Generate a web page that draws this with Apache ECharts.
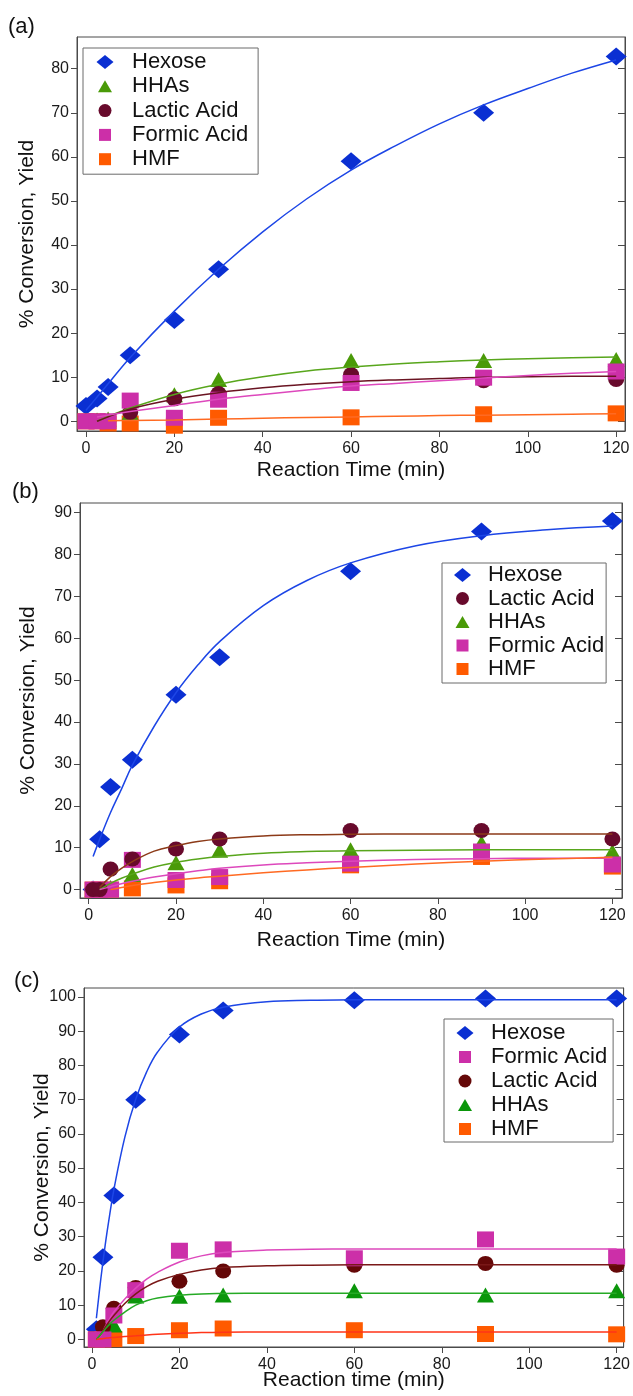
<!DOCTYPE html>
<html><head><meta charset="utf-8">
<script src="https://cdn.jsdelivr.net/npm/echarts@6/dist/echarts.min.js"></script>
<style>html,body{margin:0;padding:0;background:#fff}#c{width:633px;height:1396px}</style>
</head><body><div id="c"></div>
<script>
// ---------- data ----------
const xTicks = [0, 20, 40, 60, 80, 100, 120];
const yTicksA = [0, 10, 20, 30, 40, 50, 60, 70, 80];
const yTicksB = [0, 10, 20, 30, 40, 50, 60, 70, 80, 90];
const yTicksC = [0, 10, 20, 30, 40, 50, 60, 70, 80, 90, 100];

// panel (a)
const timesA   = [0, 2.5, 5, 10, 20, 30, 60, 90, 120];
const hexoseA  = [3.5, 5.2, 7.8, 15, 23, 34.5, 59, 70, 82.8];
const hhasA    = [0.3, 0.3, 0.5, 2, 6, 9.5, 13.8, 13.8, 14];
const lacticA  = [0, 0, 0, 2, 5.1, 6.3, 10.6, 9.2, 9.5];
const formicA  = [0, 0, 0, 4.7, 0.8, 4.9, 8.7, 9.9, 11.3];
const hmfA     = [0, 0, -0.5, -0.5, -1, 0.8, 0.9, 1.6, 1.8];
const fitTimeA   = [0, 2.5, 5, 10, 20, 30, 40, 50, 60, 70, 80, 90, 100, 110, 120];
const hexoseFitA = [2.5, 5.5, 8.5, 14.5, 25, 34.5, 43, 50.5, 57, 62.5, 67.5, 71.8, 75.5, 79, 82];
const hhasFitA   = [null, 0, 1.1, 3, 6.1, 8.4, 10.1, 11.4, 12.3, 13, 13.5, 13.9, 14.2, 14.4, 14.6];
const lacticFitA = [null, 0, 1, 2.8, 5, 6.5, 7.6, 8.4, 9, 9.4, 9.7, 10, 10.1, 10.2, 10.2];
const formicFitA = [null, 1, 1.4, 2.2, 3.6, 5, 6.1, 7.1, 8, 8.6, 9.2, 9.8, 10.4, 10.9, 11.3];
const hmfFitA    = [null, null, 0.1, 0.2, 0.3, 0.5, 0.7, 0.85, 1.0, 1.15, 1.3, 1.4, 1.5, 1.6, 1.7];

// panel (b)
const timesB   = [1, 2.5, 5, 10, 20, 30, 60, 90, 120];
const hexoseB  = [0, 12, 24.5, 31, 46.5, 55.5, 76, 85.5, 88];
const lacticB  = [0, 0, 4.9, 7.3, 9.7, 12.1, 14.1, 14.1, 12.1];
const hhasB    = [0, 0, 0.5, 3.6, 6.4, 9.4, 9.5, 11.2, 9.1];
const formicB  = [0, 0, 0, 7.1, 2.3, 3, 6.2, 9.1, 6];
const hmfB     = [0, 0, 0, 0.3, 1, 2, 5.8, 7.8, 5.5];
const fitTimeB   = [1, 2.5, 5, 7.5, 10, 15, 20, 25, 30, 40, 50, 60, 75, 90, 105, 120];
const hexoseFitB = [7.9, 12, 18.4, 24, 29.7, 39, 47, 53.6, 59.2, 67.8, 73.8, 78, 82.1, 84.5, 85.9, 86.8];
const lacticFitB = [null, 0.5, 3.1, 5.1, 6.7, 9.2, 10.5, 11.5, 12.1, 12.8, 13.1, 13.2, 13.3, 13.3, 13.3, 13.3];
const hhasFitB   = [null, 0, 1.5, 2.7, 3.7, 5.4, 6.5, 7.3, 7.9, 8.7, 9.1, 9.3, 9.4, 9.5, 9.5, 9.5];
const formicFitB = [null, 0, 0.7, 1.4, 2, 3, 3.8, 4.5, 5.1, 5.9, 6.4, 6.8, 7.2, 7.4, 7.5, 7.5];
const hmfFitB    = [null, null, 0, 0.5, 1, 1.7, 2.3, 2.8, 3.2, 4, 4.7, 5.3, 6.1, 6.8, 7.3, 7.7];

// panel (c)
const timesC   = [1, 2.5, 5, 10, 20, 30, 60, 90, 120];
const hexoseC  = [3, 24, 42, 70, 89, 96, 99, 99.5, 99.5];
const formicC  = [0, 0, 7, 14.4, 25.9, 26.3, 23.7, 29.2, 24.2];
const lacticC  = [0, 3.7, 9.1, 15.2, 17, 20, 21.7, 22.2, 21.7];
const hhasC    = [0, 2, 4.2, 12.7, 12.6, 13, 14.2, 13, 14.2];
const hmfC     = [0, 0, 0.1, 1, 2.7, 3.2, 2.7, 1.6, 1.5];
const fitTimeC   = [1, 2, 3, 4, 5, 7.5, 10, 12.5, 15, 20, 25, 30, 40, 50, 60, 80, 100, 120];
const hexoseFitC = [6.2, 17.5, 27.4, 36, 43.7, 59, 70.1, 78.1, 83.9, 91.2, 95, 97, 98.6, 99, 99.2, 99.2, 99.2, 99.2];
const formicFitC = [0, 1.2, 3.7, 6, 8, 11.8, 15, 17.6, 19.6, 22.6, 24.4, 25.4, 26.1, 26.3, 26.4, 26.4, 26.4, 26.4];
const lacticFitC = [0, 1.5, 3.5, 5.4, 7, 10.5, 13.3, 15.4, 17, 19, 20.3, 21, 21.5, 21.7, 21.8, 21.8, 21.8, 21.8];
const hhasFitC   = [0, 1.5, 3, 4.4, 5.6, 8, 10, 11.3, 12.1, 12.9, 13.3, 13.4, 13.5, 13.5, 13.5, 13.5, 13.5, 13.5];
const hmfFitC    = [0, 0.2, 0.35, 0.5, 0.6, 0.85, 1.05, 1.3, 1.5, 1.8, 2, 2.1, 2.2, 2.2, 2.2, 2.2, 2.2, 2.2];

// ---------- styles ----------
const FONT = '"Liberation Sans", Arial, Helvetica, sans-serif';
const AX = '#4a4a4a';
const ST = {
  Hexose:        {sym: 'diamond',  size: [21, 18], color: '#0a2fd2', line: '#1d46e6'},
  HHAs:          {sym: 'triangle', size: [17, 15], color: '#4a9a08', line: '#58a61c'},
  HHAsC:         {sym: 'triangle', size: [17, 15], color: '#0a960a', line: '#25aa25'},
  'Lactic Acid': {sym: 'circle',   size: [16, 15], color: '#680a2c', line: '#6a1422'},
  LacticB:       {sym: 'circle',   size: [16, 15], color: '#680a2c', line: '#8c3a18'},
  LacticC:       {sym: 'circle',   size: [16, 15], color: '#650808', line: '#7a1818'},
  'Formic Acid': {sym: 'rect',     size: [17, 16], color: '#cc2fa8', line: '#dd48bc'},
  HMF:           {sym: 'rect',     size: [17, 16], color: '#ff5a00', line: '#ff6a22'},
  HMFC:          {sym: 'rect',     size: [17, 16], color: '#ff5a00', line: '#ff3418'}
};

function pairs(t, v) {
  const out = [];
  for (let i = 0; i < t.length; i++) if (v[i] !== null) out.push([t[i], v[i]]);
  return out;
}

const series = [];
function addScatter(idx, name, st, t, v, z) {
  series.push({
    type: 'scatter', name: name, xAxisIndex: idx, yAxisIndex: idx * 2,
    symbol: st.sym, symbolSize: st.size, itemStyle: {color: st.color, opacity: 1},
    data: pairs(t, v), z: z, silent: true
  });
}
function addFit(idx, name, st, t, v) {
  series.push({
    type: 'line', name: name + ' fit ' + idx, xAxisIndex: idx, yAxisIndex: idx * 2,
    data: pairs(t, v), smooth: 0.4, showSymbol: false, symbol: 'none',
    lineStyle: {color: st.line, width: 1.5}, z: 10, silent: true
  });
}

// panel a
addScatter(0, 'Hexose', ST.Hexose, timesA, hexoseA, 2);
addScatter(0, 'HMF', ST.HMF, timesA, hmfA, 3);
addScatter(0, 'HHAs', ST.HHAs, timesA, hhasA, 4);
addScatter(0, 'Lactic Acid', ST['Lactic Acid'], timesA, lacticA, 5);
addScatter(0, 'Formic Acid', ST['Formic Acid'], timesA, formicA, 6);
addFit(0, 'Hexose', ST.Hexose, fitTimeA, hexoseFitA);
addFit(0, 'HHAs', ST.HHAs, fitTimeA, hhasFitA);
addFit(0, 'Lactic', ST['Lactic Acid'], fitTimeA, lacticFitA);
addFit(0, 'Formic', ST['Formic Acid'], fitTimeA, formicFitA);
addFit(0, 'HMF', ST.HMF, fitTimeA, hmfFitA);
// panel b
addScatter(1, 'Hexose', ST.Hexose, timesB, hexoseB, 2);
addScatter(1, 'HMF', ST.HMF, timesB, hmfB, 3);
addScatter(1, 'HHAs', ST.HHAs, timesB, hhasB, 4);
addScatter(1, 'Formic Acid', ST['Formic Acid'], timesB, formicB, 5);
addScatter(1, 'Lactic Acid', ST.LacticB, timesB, lacticB, 6);
addFit(1, 'Hexose', ST.Hexose, fitTimeB, hexoseFitB);
addFit(1, 'Lactic', ST.LacticB, fitTimeB, lacticFitB);
addFit(1, 'HHAs', ST.HHAs, fitTimeB, hhasFitB);
addFit(1, 'Formic', ST['Formic Acid'], fitTimeB, formicFitB);
addFit(1, 'HMF', ST.HMF, fitTimeB, hmfFitB);
// panel c
addScatter(2, 'Hexose', ST.Hexose, timesC, hexoseC, 2);
addScatter(2, 'HMF', ST.HMFC, timesC, hmfC, 3);
addScatter(2, 'HHAs', ST.HHAsC, timesC, hhasC, 4);
addScatter(2, 'Lactic Acid', ST.LacticC, timesC, lacticC, 5);
addScatter(2, 'Formic Acid', ST['Formic Acid'], timesC, formicC, 6);
addFit(2, 'Hexose', ST.Hexose, fitTimeC, hexoseFitC);
addFit(2, 'Formic', ST['Formic Acid'], fitTimeC, formicFitC);
addFit(2, 'Lactic', ST.LacticC, fitTimeC, lacticFitC);
addFit(2, 'HHAs', ST.HHAsC, fitTimeC, hhasFitC);
addFit(2, 'HMF', ST.HMFC, fitTimeC, hmfFitC);

// ---------- layout ----------
const grids = [
  {left: 77, top: 37, width: 548, height: 394},
  {left: 80, top: 503, width: 542, height: 395},
  {left: 84, top: 988, width: 540, height: 359}
];
const xRanges = [[-2.04, 122.0], [-2.0, 122.2], [-1.83, 121.6]];
const yRanges = [[-2.2, 87.2], [-2.0, 92.3], [-2.2, 102.6]];
const yTicks = [yTicksA, yTicksB, yTicksC];
const xNames = ['Reaction Time (min)', 'Reaction Time (min)', 'Reaction time (min)'];
const xNameGaps = [29, 32, 23];
const yNameGaps = [39, 41, 31];

const xAxes = [], yAxes = [];
for (let i = 0; i < 3; i++) {
  xAxes.push({
    type: 'value', gridIndex: i, min: xRanges[i][0], max: xRanges[i][1],
    name: xNames[i], nameLocation: 'middle', nameGap: xNameGaps[i], nameMoveOverlap: false,
    nameTextStyle: {fontFamily: FONT, fontSize: 21, color: '#111'},
    axisLine: {show: true, onZero: false, lineStyle: {color: AX, width: 1}},
    axisTick: {show: true, inside: false, length: 6, customValues: xTicks, lineStyle: {color: AX}},
    axisLabel: {show: true, customValues: xTicks, margin: 10, fontFamily: FONT, fontSize: 16, color: '#1a1a1a'},
    splitLine: {show: false}
  });
  yAxes.push({
    type: 'value', gridIndex: i, min: yRanges[i][0], max: yRanges[i][1], position: 'left',
    name: '% Conversion, Yield', nameLocation: 'middle', nameGap: yNameGaps[i], nameRotate: 90,
    nameMoveOverlap: false,
    nameTextStyle: {fontFamily: FONT, fontSize: 21, color: '#111'},
    axisLine: {show: true, onZero: false, lineStyle: {color: AX, width: 1}},
    axisTick: {show: true, inside: false, length: 6, customValues: yTicks[i], lineStyle: {color: AX}},
    axisLabel: {show: true, customValues: yTicks[i], margin: 8, fontFamily: FONT, fontSize: 16, color: '#1a1a1a'},
    splitLine: {show: false}
  });
  yAxes.push({
    type: 'value', gridIndex: i, min: yRanges[i][0], max: yRanges[i][1], position: 'right',
    axisLine: {show: true, onZero: false, lineStyle: {color: AX, width: 1}},
    axisTick: {show: true, inside: true, length: 7, customValues: yTicks[i], lineStyle: {color: AX}},
    axisLabel: {show: false},
    splitLine: {show: false}
  });
}

// legend icons: path with invisible corner moves so the icon keeps its own size
const ICON_H = 16;
function iconPath(sym, W) {
  const c = W / 2, m = ICON_H / 2;
  let p = 'path://M0,0M' + W + ',' + ICON_H;
  if (sym === 'diamond') p += 'M' + (c - 8.5) + ',' + m + 'L' + c + ',' + (m - 7) + 'L' + (c + 8.5) + ',' + m + 'L' + c + ',' + (m + 7) + 'Z';
  else if (sym === 'triangle') p += 'M' + (c - 7) + ',' + (m + 6) + 'L' + c + ',' + (m - 6) + 'L' + (c + 7) + ',' + (m + 6) + 'Z';
  else if (sym === 'circle') p += 'M' + (c - 6.5) + ',' + m + 'A6.5,6.5 0 1,0 ' + (c + 6.5) + ',' + m + 'A6.5,6.5 0 1,0 ' + (c - 6.5) + ',' + m + 'Z';
  else p += 'M' + (c - 6) + ',' + (m - 6) + 'L' + (c + 6) + ',' + (m - 6) + 'L' + (c + 6) + ',' + (m + 6) + 'L' + (c - 6) + ',' + (m + 6) + 'Z';
  return p;
}
function legendItems(order, overrides, W) {
  return order.map(n => {
    const st = overrides[n] || ST[n];
    return {name: n, icon: iconPath(st.sym, W), itemStyle: {color: st.color}};
  });
}
const legendBase = {
  orient: 'vertical', backgroundColor: '#fff', borderColor: '#6a6a6a', borderWidth: 1,
  itemHeight: ICON_H, selectedMode: false, symbolKeepAspect: false,
  textStyle: {fontFamily: FONT, fontSize: 22, lineHeight: 21, color: '#111'}
};
const legends = [
  Object.assign({}, legendBase, {left: 83, top: 48, itemWidth: 44, itemGap: 2.3,
    padding: [3, 10, 4, 0],
    data: legendItems(['Hexose', 'HHAs', 'Lactic Acid', 'Formic Acid', 'HMF'], {}, 44)}),
  Object.assign({}, legendBase, {left: 442, top: 563, itemWidth: 41, itemGap: 1.5,
    padding: [1, 2, 3, 0],
    data: legendItems(['Hexose', 'Lactic Acid', 'HHAs', 'Formic Acid', 'HMF'], {}, 41)}),
  Object.assign({}, legendBase, {left: 444, top: 1019, itemWidth: 42, itemGap: 2,
    padding: [3, 6, 2, 0],
    data: legendItems(['Hexose', 'Formic Acid', 'Lactic Acid', 'HHAs', 'HMF'],
      {'Lactic Acid': ST.LacticC, 'HHAs': ST.HHAsC}, 42)})
];

const panelLabels = [['(a)', 8, 16], ['(b)', 12, 481], ['(c)', 14, 970]];

const chart = echarts.init(document.getElementById('c'), null, {renderer: 'canvas'});
chart.setOption({
  animation: false,
  backgroundColor: '#fff',
  textStyle: {fontFamily: FONT},
  grid: grids.map(g => Object.assign({show: true, borderColor: AX, borderWidth: 1, backgroundColor: 'transparent', containLabel: false}, g)),
  xAxis: xAxes,
  yAxis: yAxes,
  legend: legends,
  graphic: panelLabels.map(p => ({type: 'text', left: p[1], top: p[2],
    style: {text: p[0], font: '22px ' + FONT, fill: '#111'}})),
  series: series
});
</script>
</body></html>
